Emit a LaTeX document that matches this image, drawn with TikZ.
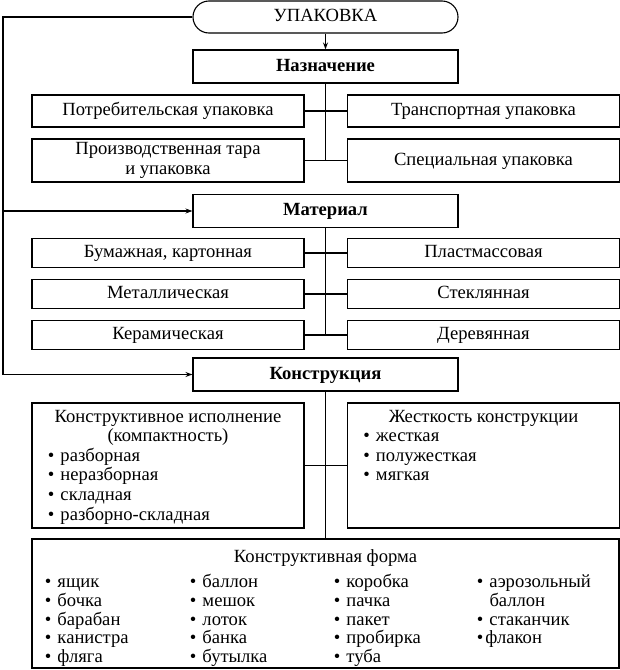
\documentclass[tikz,border=0pt]{standalone}
\usepackage{fontspec}
\setmainfont{Liberation Serif}
\usetikzlibrary{positioning, arrows.meta}

\tikzset{
  box/.style={draw, line width=1.1pt, minimum width=272pt, minimum height=29pt,
    inner sep=2pt, align=center, text height=12.5pt, text depth=3.5pt,
    font=\fontsize{18.6}{20.5}\selectfont},
  headbox/.style={box, minimum width=265pt, minimum height=33pt,
    font=\fontsize{18.6}{20.5}\selectfont\bfseries},
  topbox/.style={box, minimum width=265pt, minimum height=32pt, rounded corners=16pt},
  listbox/.style={box, inner xsep=0pt, inner ysep=7pt, text height=, text depth=,
    font=\fontsize{18.6}{19.6}\selectfont},
  line/.style={line width=1.1pt}
}

\newcommand{\itm}[1]{\textbullet\hspace{6pt}#1}

\begin{document}
\begin{tikzpicture}[node distance=2cm, on grid, >={Stealth[length=7pt,width=5pt]}]
  \useasboundingbox (-325.5pt,17pt) rectangle (294.5pt,-653pt);

  \node[topbox] (upak) {УПАКОВКА};

  % purpose
  \node[headbox] (naz) [below=49.5pt of upak] {Назначение};
  \node[box, minimum height=32pt] (potr) [below left=44.5pt and 157.5pt of naz] {Потребительская упаковка};
  \node[box, minimum height=32pt] (trans) [right=315.5pt of potr] {Транспортная упаковка};
  \node[box, minimum height=43pt, text height=, text depth=] (proizv) [below=49.5pt of potr] {Производственная тара\\и упаковка};
  \node[box, minimum height=43pt] (spec) [right=315.5pt of proizv] {Специальная упаковка};

  % material
  \node[headbox] (mat) [below=144.5pt of naz] {Материал};
  \node[box] (bum) [below left=42pt and 157.5pt of mat] {Бумажная, картонная};
  \node[box] (plast) [right=315.5pt of bum] {Пластмассовая};
  \node[box] (met) [below=41pt of bum] {Металлическая};
  \node[box] (stek) [right=315.5pt of met] {Стеклянная};
  \node[box] (ker) [below=41pt of met] {Керамическая};
  \node[box] (der) [right=315.5pt of ker] {Деревянная};

  % construction
  \node[headbox] (kon) [below=163.5pt of mat] {Конструкция};
  \node[listbox] (ispoln) [below left=91pt and 157.5pt of kon] {%
    \begin{minipage}[t][111pt][t]{240pt}
      {\centering Конструктивное исполнение\\(компактность)\par}
      \itm{разборная}\\
      \itm{неразборная}\\
      \itm{складная}\\
      \itm{разборно-складная}
    \end{minipage}};
  \node[listbox] (zhest) [right=315.5pt of ispoln] {%
    \begin{minipage}[t][111pt][t]{240pt}
      {\centering Жесткость конструкции\par}
      \itm{жесткая}\\
      \itm{полужесткая}\\
      \itm{мягкая}
    \end{minipage}};
  \node[listbox, inner ysep=11pt, minimum width=587pt, minimum height=129pt] (forma) [below=229pt of kon] {%
    \begin{minipage}[t][107pt][t]{561pt}
      {\centering Конструктивная форма\par}
      \vspace{5pt}
      {\fontsize{18.6}{18.35}\selectfont\tabcolsep=0pt
      \begin{tabular}[t]{p{145pt}p{144pt}p{143pt}p{129pt}}
        \itm{ящик}     & \itm{баллон}  & \itm{коробка}  & \itm{аэрозольный}\\
        \itm{бочка}    & \itm{мешок}   & \itm{пачка}    & \phantom{\textbullet\hspace{6pt}}баллон\\
        \itm{барабан}  & \itm{лоток}   & \itm{пакет}    & \itm{стаканчик}\\
        \itm{канистра} & \itm{банка}   & \itm{пробирка} & \textbullet\hspace{2pt}флакон\\
        \itm{фляга}    & \itm{бутылка} & \itm{туба}     & \\
      \end{tabular}}
    \end{minipage}};

  % links
  \draw[line, ->] (upak) -- (naz);
  \draw[line] (naz.south) -- (naz.south |- proizv.east);
  \draw[line] (potr.east) -- (trans.west);
  \draw[line] (proizv.east) -- (spec.west);

  \draw[line] (mat.south) -- (mat.south |- ker.east);
  \draw[line] (bum.east) -- (plast.west);
  \draw[line] (met.east) -- (stek.west);
  \draw[line] (ker.east) -- (der.west);

  \draw[line] (kon.south) -- (forma.north);
  \draw[line] (ispoln.east) -- (zhest.west);

  \coordinate[left=322.5pt of upak] (lft);
  \draw[line, ->] (upak.west) -- (lft) |- (kon.west);
  \draw[line, ->] (lft |- mat.west) -- (mat.west);

\end{tikzpicture}
\end{document}
